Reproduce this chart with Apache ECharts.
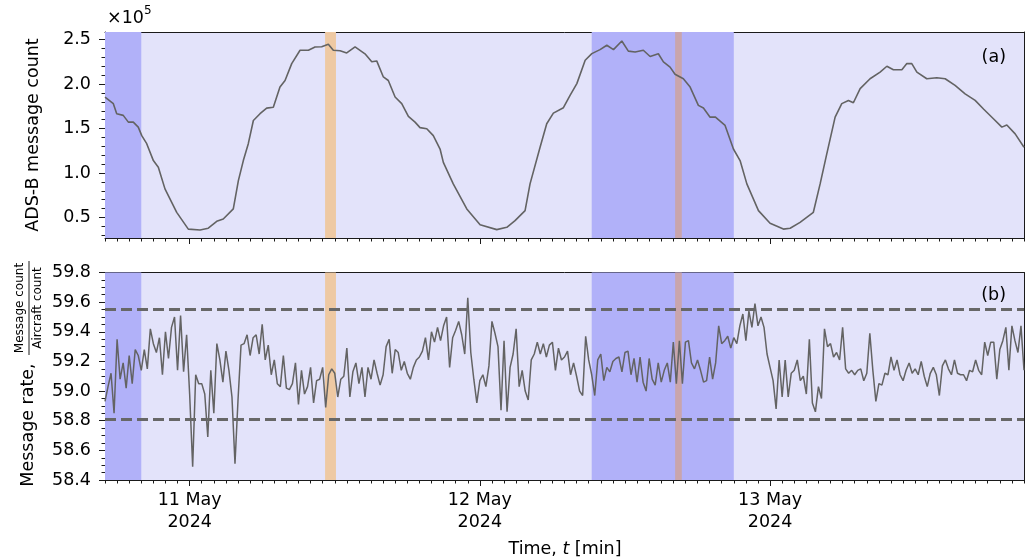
<!DOCTYPE html>
<html><head><meta charset="utf-8">
<script src="https://cdn.jsdelivr.net/npm/echarts@6/dist/echarts.min.js"></script>
<style>html,body{margin:0;padding:0;background:#fff}#c{width:1031px;height:559px}</style>
</head><body><div id="c"></div>
<script>
// Time unit: hours since 10 May 2024 00:00
const topHours = [17.00,17.69,17.97,18.51,18.93,19.34,19.75,20.04,20.45,21.00,21.41,21.96,22.93,23.89,24.86,25.54,26.24,26.78,27.61,28.03,28.44,28.85,29.27,29.82,30.37,30.92,31.47,31.89,32.44,33.13,33.82,34.37,34.92,35.47,35.88,36.44,36.99,37.68,38.50,39.06,39.47,40.02,40.43,40.99,41.54,42.09,42.64,43.05,43.61,44.15,44.71,44.98,45.80,46.92,48.02,49.40,50.23,50.91,51.74,52.15,52.98,53.53,54.08,54.91,55.46,56.02,56.71,57.26,57.94,58.50,59.05,59.74,60.28,60.84,61.52,62.08,62.76,63.18,63.73,64.14,64.83,65.39,66.07,66.49,67.04,67.46,68.28,68.97,69.52,70.08,71.04,72.00,73.10,73.66,74.48,75.58,76.14,76.69,77.38,77.93,78.48,78.89,79.45,80.27,81.10,81.66,82.20,82.90,83.31,83.72,84.14,84.96,85.79,86.48,87.30,88.13,88.96,89.65,90.47,91.17,91.58,92.27,93.00];
const topCounts = [185400,178000,166700,164800,157200,157200,151600,142000,133000,114000,106500,82200,55800,37000,36000,38000,45700,48400,59700,91500,114000,133000,159000,166700,173000,174000,196600,204000,223000,238000,238000,241700,242000,244700,238000,237500,235000,241700,234000,225000,226000,208000,204000,185400,178000,163600,157200,151000,149800,142000,127000,112000,87800,59700,42000,36400,39000,46500,57800,87800,129000,155400,167300,173400,187300,200500,226700,234200,238700,243600,238700,248400,237000,236000,238000,231000,234000,225000,219000,211000,206000,196600,176000,173000,162800,163000,153500,127000,114000,87800,57800,43500,37000,38000,44600,55900,87800,121600,162800,178000,181600,179000,194800,206000,213500,220000,216000,216000,223000,223000,213500,206000,207000,206000,198500,189000,181600,172000,161000,151600,154000,144000,129000];

const rateStartHour = 17;
const rateStepHours = 0.25;
const rateValues = [
58.93,59.03,59.12,58.85,59.35,59.08,59.19,59.02,59.24,59.05,59.28,59.24,59.14,59.28,59.15,59.42,59.32,59.26,59.36,59.11,
59.40,59.22,59.43,59.50,59.14,59.51,59.13,59.38,58.98,58.49,59.11,59.05,59.05,58.98,58.69,59.14,58.85,59.32,59.21,59.06,
59.27,59.14,58.96,58.51,58.94,59.31,59.32,59.38,59.24,59.36,59.38,59.25,59.45,59.21,59.31,59.11,59.21,59.05,59.03,59.24,
59.02,59.01,59.05,59.19,58.91,59.14,58.98,59.03,59.16,58.92,59.07,59.08,59.16,58.89,59.11,59.15,59.12,58.96,59.08,59.10,
59.29,58.96,59.13,59.19,59.05,59.16,58.96,59.16,59.08,59.21,59.12,59.04,59.11,59.30,59.35,59.12,59.28,59.26,59.14,59.20,
59.12,59.08,59.16,59.21,59.23,59.27,59.36,59.21,59.40,59.33,59.43,59.34,59.44,59.50,59.16,59.36,59.41,59.47,59.38,59.25,
59.63,59.26,59.08,58.92,59.07,59.11,59.03,59.17,59.47,59.39,59.30,58.87,59.34,58.86,59.16,59.25,59.42,59.03,59.14,59.00,
58.94,59.21,59.25,59.33,59.25,59.32,59.23,59.31,59.33,59.14,59.29,59.21,59.23,59.27,59.11,59.19,59.10,59.00,58.97,59.37,
59.21,59.11,58.97,59.21,59.25,59.07,59.16,59.13,59.20,59.22,59.23,59.13,59.26,59.27,59.11,59.22,59.06,59.23,59.06,59.00,
59.22,59.08,59.04,59.19,59.06,59.14,59.19,59.06,59.33,59.05,59.34,59.05,59.33,59.34,59.19,59.15,59.21,59.14,59.06,59.07,
59.23,59.08,59.19,59.44,59.32,59.34,59.37,59.29,59.36,59.32,59.44,59.52,59.34,59.54,59.43,59.59,59.44,59.50,59.43,59.25,
59.16,59.07,58.88,59.21,58.96,59.21,58.96,59.12,59.14,59.21,59.07,59.10,58.98,59.35,58.92,58.86,59.03,58.95,59.42,59.30,
59.32,59.23,59.26,59.21,59.43,59.15,59.12,59.14,59.11,59.14,59.15,59.07,59.12,59.39,59.14,58.93,59.05,59.04,59.12,59.11,
59.23,59.14,59.21,59.11,59.07,59.14,59.19,59.12,59.15,59.11,59.20,59.10,59.03,59.12,59.16,59.11,58.97,59.17,59.21,59.15,
59.11,59.21,59.12,59.11,59.11,59.07,59.14,59.13,59.21,59.14,59.11,59.33,59.24,59.33,59.33,59.08,59.28,59.34,59.43,59.14,
59.44,59.34,59.26,59.44,59.14];

const thresholds = [59.55, 58.81];
const darkBands = [[17, 20], [57.25, 69]];
const orangeBands = [[35.2, 36.1], [64.15, 64.7]];
const xTickHours = [24, 48, 72];
const xTickLabels = ['11 May\n2024', '12 May\n2024', '13 May\n2024'];
const countTicks = [50000, 100000, 150000, 200000, 250000];
const rateTicks = [58.4, 58.6, 58.8, 59.0, 59.2, 59.4, 59.6, 59.8];

const X_MIN = 17, X_MAX = 93;
const COUNT_MIN = 27000, COUNT_MAX = 258500;
const RATE_MIN = 58.4, RATE_MAX = 59.8;

const FONT = 'DejaVu Sans';
const INK = '#1a1a1a';
const LINE_GRAY = '#636363';

const hourTicks = [];
for (let h = X_MIN; h <= X_MAX; h++) hourTicks.push(h);
const countMinor = [];
for (let v = 30000; v <= 250000; v += 10000) countMinor.push(v);
const rateMinor = [];
for (let k = 0; k <= 28; k++) rateMinor.push(+(RATE_MIN + k * 0.05).toFixed(2));

const topData = topHours.map((h, i) => [h, topCounts[i]]);
const rateData = rateValues.map((v, i) => [rateStartHour + i * rateStepHours, v]);

function xAxesFor(g, withLabels) {
  return [
    { type: 'value', gridIndex: g, min: X_MIN, max: X_MAX, position: 'bottom',
      axisLine: { show: true, onZero: false, lineStyle: { color: INK, width: 1 } },
      axisTick: { show: true, customValues: xTickHours, length: 6, lineStyle: { color: INK, width: 1 } },
      axisLabel: { show: withLabels, customValues: xTickHours,
        formatter: v => { const k = xTickHours.indexOf(v); return k >= 0 ? xTickLabels[k] : ''; },
        margin: 9, fontFamily: FONT, fontSize: 17.5, lineHeight: 22, color: '#000', align: 'center' },
      splitLine: { show: false } },
    { type: 'value', gridIndex: g, min: X_MIN, max: X_MAX, position: 'bottom',
      axisLine: { show: false, onZero: false },
      axisTick: { show: true, customValues: hourTicks, length: 3.5, lineStyle: { color: INK, width: 1 } },
      axisLabel: { show: false }, splitLine: { show: false } },
    { type: 'value', gridIndex: g, min: X_MIN, max: X_MAX, position: 'top',
      axisLine: { show: true, onZero: false, lineStyle: { color: INK, width: 1 } },
      axisTick: { show: false }, axisLabel: { show: false }, splitLine: { show: false } }
  ];
}
function yAxesFor(g, min, max, major, minor, fmt) {
  return [
    { type: 'value', gridIndex: g, min: min, max: max, position: 'left',
      axisLine: { show: true, onZero: false, lineStyle: { color: INK, width: 1 } },
      axisTick: { show: true, customValues: major, length: 6, lineStyle: { color: INK, width: 1 } },
      axisLabel: { show: true, customValues: major, formatter: fmt, margin: 14,
        fontFamily: FONT, fontSize: 17.5, color: '#000' },
      splitLine: { show: false } },
    { type: 'value', gridIndex: g, min: min, max: max, position: 'left',
      axisLine: { show: false, onZero: false },
      axisTick: { show: true, customValues: minor, length: 3.5, lineStyle: { color: INK, width: 1 } },
      axisLabel: { show: false }, splitLine: { show: false } },
    { type: 'value', gridIndex: g, min: min, max: max, position: 'right',
      axisLine: { show: true, onZero: false, lineStyle: { color: INK, width: 1 } },
      axisTick: { show: false }, axisLabel: { show: false }, splitLine: { show: false } }
  ];
}

function bandAreas() {
  const out = [];
  darkBands.forEach(b => out.push([{ xAxis: b[0], itemStyle: { color: '#b1b1f9' } }, { xAxis: b[1] }]));
  orangeBands.forEach(b => {
    const inDark = darkBands.some(d => b[0] >= d[0] && b[1] <= d[1]);
    out.push([{ xAxis: b[0], itemStyle: { color: inDark ? '#c9a5ac' : '#eec9a3' } }, { xAxis: b[1] }]);
  });
  return out;
}

const chart = echarts.init(document.getElementById('c'), null, { renderer: 'canvas' });
const option = {
  animation: false,
  backgroundColor: '#ffffff',
  grid: [
    { left: 105, top: 32, width: 919, height: 206, show: true, backgroundColor: '#e3e3fa', borderWidth: 0, containLabel: false },
    { left: 105, top: 272.5, width: 919, height: 207.5, show: true, backgroundColor: '#e3e3fa', borderWidth: 0, containLabel: false }
  ],
  xAxis: [].concat(xAxesFor(0, false), xAxesFor(1, true)),
  yAxis: [].concat(
    yAxesFor(0, COUNT_MIN, COUNT_MAX, countTicks, countMinor, v => (v / 1e5).toFixed(1)),
    yAxesFor(1, RATE_MIN, RATE_MAX, rateTicks, rateMinor, v => v.toFixed(1))
  ),
  series: [
    { type: 'line', xAxisIndex: 0, yAxisIndex: 0, data: [], z: 1, silent: true,
      markArea: { silent: true, data: bandAreas() } },
    { type: 'line', xAxisIndex: 3, yAxisIndex: 3, data: [], z: 1, silent: true,
      markArea: { silent: true, data: bandAreas() } },
    { type: 'line', name: 'count', xAxisIndex: 0, yAxisIndex: 0, data: topData, z: 3,
      showSymbol: false, symbol: 'none', lineStyle: { color: LINE_GRAY, width: 1.6 } },
    { type: 'line', name: 'rate', xAxisIndex: 3, yAxisIndex: 3, data: rateData, z: 3,
      showSymbol: false, symbol: 'none', lineStyle: { color: LINE_GRAY, width: 1.5 },
      markLine: { silent: true, symbol: 'none', label: { show: false },
        lineStyle: { color: '#676767', width: 3, type: [11, 5] },
        data: thresholds.map(v => ({ yAxis: v })) } }
  ],
  graphic: [
    { type: 'text', x: 33, y: 135, rotation: Math.PI / 2,
      style: { text: 'ADS-B message count', font: '17.5px "DejaVu Sans"', fill: '#000', align: 'center', verticalAlign: 'middle' } },
    { type: 'text', x: 28, y: 425, rotation: Math.PI / 2,
      style: { text: 'Message rate,', font: '17.5px "DejaVu Sans"', fill: '#000', align: 'center', verticalAlign: 'middle' } },
    { type: 'text', x: 20, y: 308, rotation: Math.PI / 2,
      style: { text: 'Message count', font: '12px "DejaVu Sans"', fill: '#000', align: 'center', verticalAlign: 'middle' } },
    { type: 'line', shape: { x1: 29, y1: 261, x2: 29, y2: 355 }, style: { stroke: '#000', lineWidth: 0.9 } },
    { type: 'text', x: 38, y: 308, rotation: Math.PI / 2,
      style: { text: 'Aircraft count', font: '12px "DejaVu Sans"', fill: '#000', align: 'center', verticalAlign: 'middle' } },
    { type: 'text', x: 107, y: 18,
      style: { text: '×10', font: '17.5px "DejaVu Sans"', fill: '#000', align: 'left', verticalAlign: 'middle' } },
    { type: 'text', x: 144, y: 11,
      style: { text: '5', font: '12px "DejaVu Sans"', fill: '#000', align: 'left', verticalAlign: 'middle' } },
    { type: 'text', x: 1006, y: 57,
      style: { text: '(a)', font: '17.5px "DejaVu Sans"', fill: '#000', align: 'right', verticalAlign: 'middle' } },
    { type: 'text', x: 1006, y: 295,
      style: { text: '(b)', font: '17.5px "DejaVu Sans"', fill: '#000', align: 'right', verticalAlign: 'middle' } },
    { type: 'text', x: 565, y: 549,
      style: { text: '{n|Time, }{i|t}{n| [min]}', align: 'center', verticalAlign: 'middle',
        rich: { n: { fontFamily: FONT, fontSize: 17.5, fill: '#000', color: '#000' },
                i: { fontFamily: FONT, fontSize: 17.5, fontStyle: 'italic', color: '#000' } } } }
  ]
};
chart.setOption(option);
</script>
</body></html>
